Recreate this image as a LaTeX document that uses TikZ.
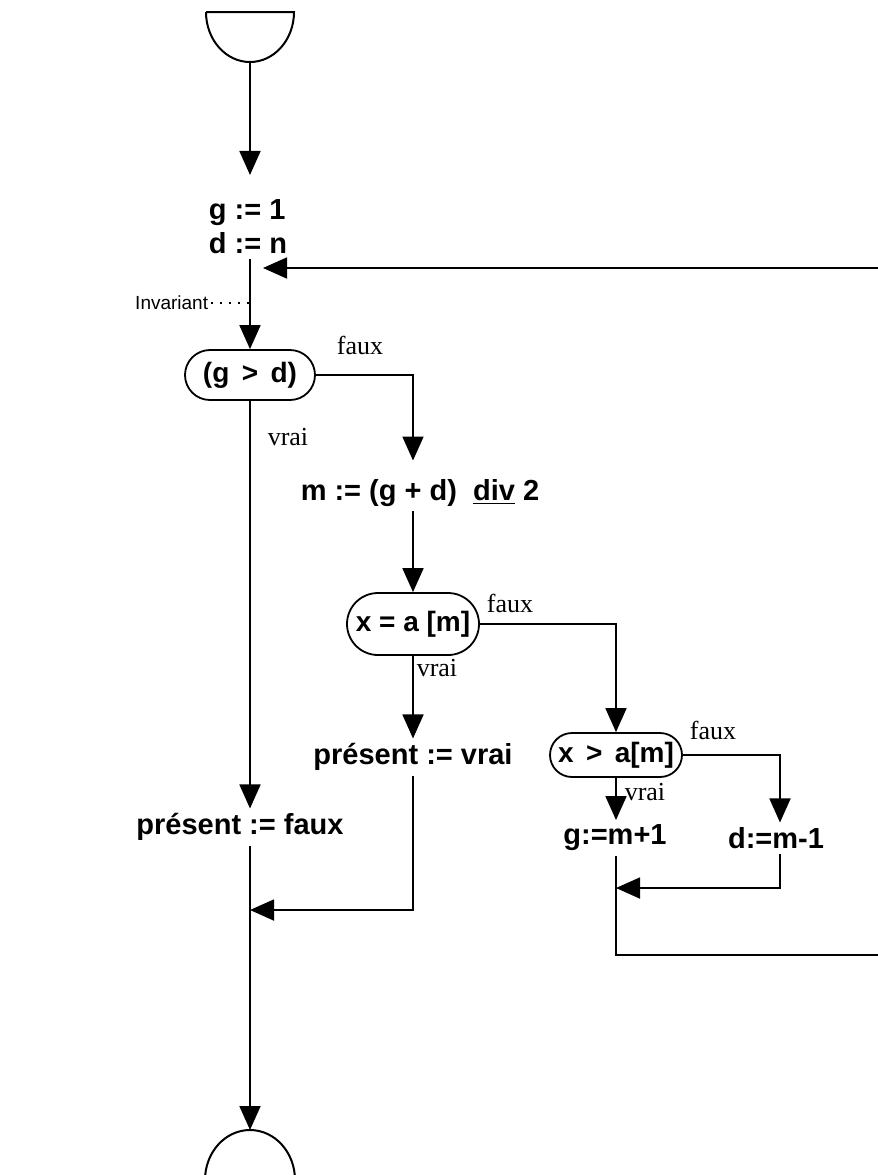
\documentclass[tikz,border=0pt]{standalone}
\usepackage{fontspec}
\setmainfont{Liberation Serif}
\setsansfont{Liberation Sans}
\usetikzlibrary{arrows.meta, positioning, shapes.misc}

\begin{document}
\begin{tikzpicture}[x=0.5pt, y=-0.5pt, line width=0.9pt,
    instr/.style={font=\sffamily\bfseries\fontsize{14.5}{17}\selectfont, inner sep=2pt},
    test/.style={rounded rectangle, draw, font=\sffamily\bfseries\fontsize{14}{17}\selectfont, minimum width=69pt, minimum height=25pt, inner sep=2pt},
    etiq/.style={font=\fontsize{13}{15}\selectfont, inner sep=1pt},
    fleche/.style={-{Triangle[length=12pt, width=10.5pt]}},
    bout/.style={line width=1pt}
  ]
    \useasboundingbox (0,0) rectangle (878,1175);
    \clip (0,0) rectangle (878,1175);
    % debut et fin
    \draw[bout] (206,12) -- (294,12) arc[start angle=0, end angle=-180, x radius=22pt, y radius=25pt];
    \coordinate (debut) at (250,62);
    \coordinate (fin) at (250,1130);
    \draw[bout] (205,1180) arc[start angle=180, end angle=0, x radius=22.5pt, y radius=25pt];
    % instructions et tests
    \node[instr, align=left] (init) at (248,227) {g := 1\\d := n};
    \node[test] (cond1) at (250,375) {(g \,>\, d)};
    \node[instr] (milieu) at (420,493) {m := (g + d)~~\underline{div} 2};
    \node[test, minimum width=70pt, minimum height=31pt] (cond2) at (413,624) {x = a [m]};
    \node[test, minimum width=70pt, minimum height=22pt] (cond3) at (616,755) {x \,>\, a[m]};
    \node[instr] (pv) at (413,757) {présent := vrai};
    \node[instr] (pf) at (240,827) {présent := faux};
    \node[instr] (gm) at (615,838) {g:=m+1};
    \node[instr] (dm) at (776,838) {d:=m-1};
    % etiquettes
    \node[font=\sffamily\fontsize{9.5}{12}\selectfont, anchor=east, inner sep=1pt] (inv) at (211,303) {Invariant};
    \node[etiq] (f1) at (360,345) {faux};
    \node[etiq] (v1) at (288,437) {vrai};
    \node[etiq] (f2) at (510,603) {faux};
    \node[etiq] (v2) at (437,668) {vrai};
    \node[etiq] (f3) at (713,730) {faux};
    \node[etiq] (v3) at (645,792) {vrai};
    % jonctions
    \coordinate (entree) at (250,268);
    \coordinate (jonc1) at (250,910);
    \coordinate (jonc2) at (616,888);
    \coordinate (boucle) at (900,955);
    % fleches
    \draw[fleche, shorten >=10pt] (debut) -- (debut |- init.north);
    \draw[fleche] (entree |- init.south) -- (cond1.north);
    \draw[dash pattern=on 1.2pt off 3.3pt, line width=1.2pt] (inv.east) -- (inv.east -| entree);
    \draw[fleche, shorten >=7pt] (cond1.east) -| (cond2.north |- milieu.north);
    \draw[fleche] (cond2.north |- milieu.south) -- (cond2.north);
    \draw[fleche] (cond2.east) -| (cond3.north);
    \draw[fleche] (cond2.south) -- (pv.north);
    \draw[fleche] (cond1.south) -- (cond1.south |- pf.north);
    \draw[fleche] (cond3.south) -- (cond3.south |- gm.north);
    \draw[fleche] (cond3.east) -| ([xshift=2pt]dm.north);
    \draw[fleche] ([xshift=2pt]dm.south) |- (jonc2);
    \draw[fleche, shorten >=6.5pt] (jonc2 |- gm.south) |- (boucle) |- (entree);
    \draw[fleche] (pv.south) |- (jonc1);
    \draw[fleche] (cond1.south |- pf.south) -- (fin);
  \end{tikzpicture}
\end{document}
